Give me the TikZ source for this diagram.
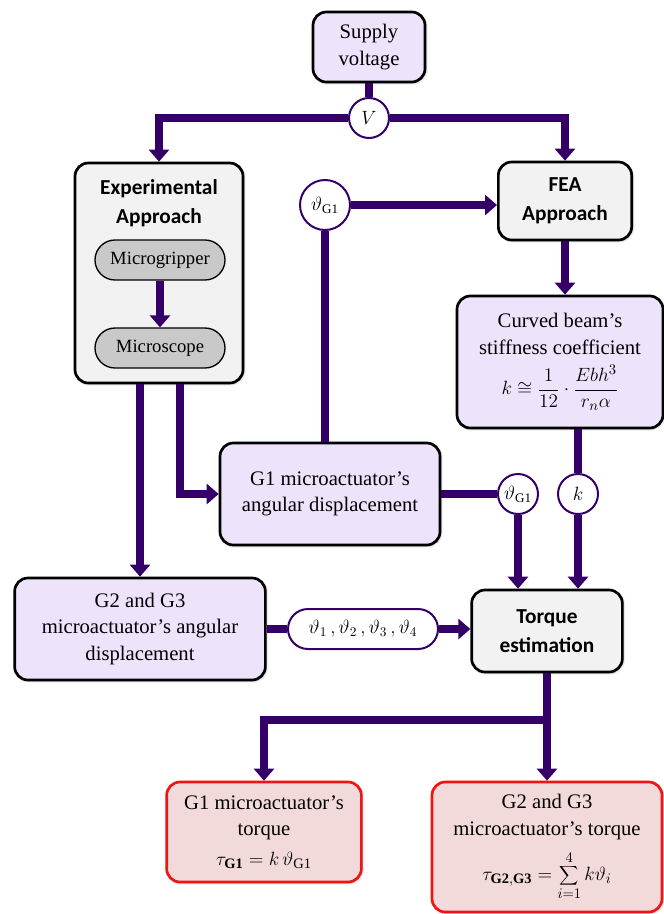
\documentclass[tikz,border=0pt]{standalone}
\usepackage{fontspec}
\setmainfont{Liberation Serif}
\newfontfamily\headfont{Carlito}
\usetikzlibrary{positioning,arrows.meta,calc,shadows.blur}
\definecolor{lineViolet}{RGB}{52,0,104}
\definecolor{paleViolet}{RGB}{237,227,251}
\definecolor{paleGrey}{RGB}{242,242,242}
\definecolor{midGrey}{RGB}{201,201,201}
\definecolor{paleRed}{RGB}{243,218,218}
\definecolor{edgeRed}{RGB}{240,20,20}
\tikzset{
	block/.style={
		draw=black,
		line width=2pt,
		rounded corners=10pt,
		align=center,
		inner sep=2pt,
		blur shadow={shadow blur steps=5,shadow xshift=0.6pt,shadow yshift=-0.6pt},
		font=\fontsize{15.5}{20}\selectfont,
	},
	datablock/.style={block, fill=paleViolet},
	stepblock/.style={block, fill=paleGrey, font=\headfont\bfseries\fontsize{16}{22}\selectfont},
	resultblock/.style={block, draw=edgeRed, fill=paleRed},
	device/.style={
		draw=black,
		line width=1pt,
		fill=midGrey,
		rounded corners=15pt,
		minimum width=97.5pt,
		minimum height=30pt,
		font=\fontsize{14}{16}\selectfont,
	},
	signal/.style={
		draw=lineViolet,
		line width=1.5pt,
		fill=white,
		circle,
		inner sep=0pt,
		minimum size=30pt,
		font=\fontsize{14}{16}\selectfont,
	},
	link/.style={draw=lineViolet, line width=6pt},
	flow/.style={link, -{Triangle[length=9pt,width=15pt]}},
}

\begin{document}
\begin{tikzpicture}[x=0.75pt,y=-0.75pt]
	\useasboundingbox (0,0) rectangle (664,914);
	% --- Top ---
	\node[datablock, minimum width=84pt, minimum height=52.5pt] (supply) at (369,47) {Supply\\voltage};
	\node[signal] (volt) at (369,118) {$V$};
	
	% --- Approaches ---
	\node[stepblock, minimum width=126pt, minimum height=165pt] (exp) at (159,273) {};
	\node[font=\headfont\bfseries\fontsize{16}{22}\selectfont, align=center] (exptitle) at (159,203) {Experimental\\Approach};
	\node[device] (grip) at (160,260) {Microgripper};
	\node[device] (scope) at (160,348) {Microscope};
	\node[stepblock, minimum width=100pt, minimum height=58.5pt] (fea) at (565,201) {FEA\\Approach};
	\node[signal, minimum size=37.5pt] (angtop) at (325,205) {$\vartheta_{\mathrm{G1}}$};
	
	% --- Middle ---
	\node[datablock, minimum width=154.5pt, minimum height=99pt] (beam) at (560,362)
	{Curved beam's\\stiffness coefficient\\[7pt] $\displaystyle k \cong \frac{1}{12}\cdot\frac{Ebh^3}{r_n\alpha}$};
	\node[datablock, minimum width=165pt, minimum height=76.5pt] (g1disp) at (330,494) {G1 microactuator's\\angular displacement};
	\node[signal] (angright) at (518,494) {$\vartheta_{\mathrm{G1}}$};
	\node[signal] (stiff) at (578,494) {$k$};
	
	% --- Lower row ---
	\node[datablock, minimum width=188pt, minimum height=76.5pt] (g23disp) at (140,629) {G2 and G3\\microactuator's angular\\displacement};
	\node[draw=lineViolet, line width=1.5pt, fill=white, rounded corners=15pt, minimum width=112.5pt, minimum height=30pt,
	font=\fontsize{14}{16}\selectfont] (angall) at (363,629) {$\vartheta_1\,,\vartheta_2\,,\vartheta_3\,,\vartheta_4$};
	\node[stepblock, minimum width=113pt, minimum height=61.5pt] (torque) at (547,631) {Torque\\estimation};
	
	% --- Results ---
	\node[resultblock, minimum width=146pt, minimum height=75pt] (g1torque) at (264,832)
	{G1 microactuator's\\torque\\[2pt] $\tau_{\mathbf{G1}} = k\,\vartheta_{\mathrm{G1}}$};
	\node[resultblock, minimum width=172.5pt, minimum height=97.5pt] (g23torque) at (547,847)
	{G2 and G3\\microactuator's torque\\[8pt] $\displaystyle \tau_{\mathbf{G2,G3}} = \sum_{i=1}^{4} k\vartheta_i$};
	
	% --- Flows ---
	\coordinate (expleft) at ($(exp.south)+(-19,0)$);
	\coordinate (expright) at ($(exp.south)+(21,0)$);
	\coordinate (split) at (547,720);
	\draw[link] (supply.south) -- (volt.north);
	\draw[flow] (volt.west) -| (exp.north);
	\draw[flow] (volt.east) -| (fea.north);
	\draw[flow] (grip.south) -- (scope.north);
	\draw[flow] (angtop.east) -- (angtop.east -| fea.west);
	\draw[link] (angtop.south) -- (angtop.south |- g1disp.north);
	\draw[flow] (fea.south) -- (fea.south |- beam.north);
	\draw[flow] (expright) |- (g1disp.west);
	\draw[flow] (expleft) -- (expleft |- g23disp.north);
	\draw[link] (g1disp.east) -- (angright.west);
	\draw[flow] (angright.south) -- (angright.south |- torque.north);
	\draw[link] (stiff.north |- beam.south) -- (stiff.north);
	\draw[flow] (stiff.south) -- (stiff.south |- torque.north);
	\draw[link] (g23disp.east) -- (angall.west);
	\draw[flow] (angall.east) -- (angall.east -| torque.west);
	\draw[flow] (torque.south) -- (split) -| (g1torque.north);
	\draw[flow] (split) -- (g23torque.north);
\end{tikzpicture}
\end{document}
